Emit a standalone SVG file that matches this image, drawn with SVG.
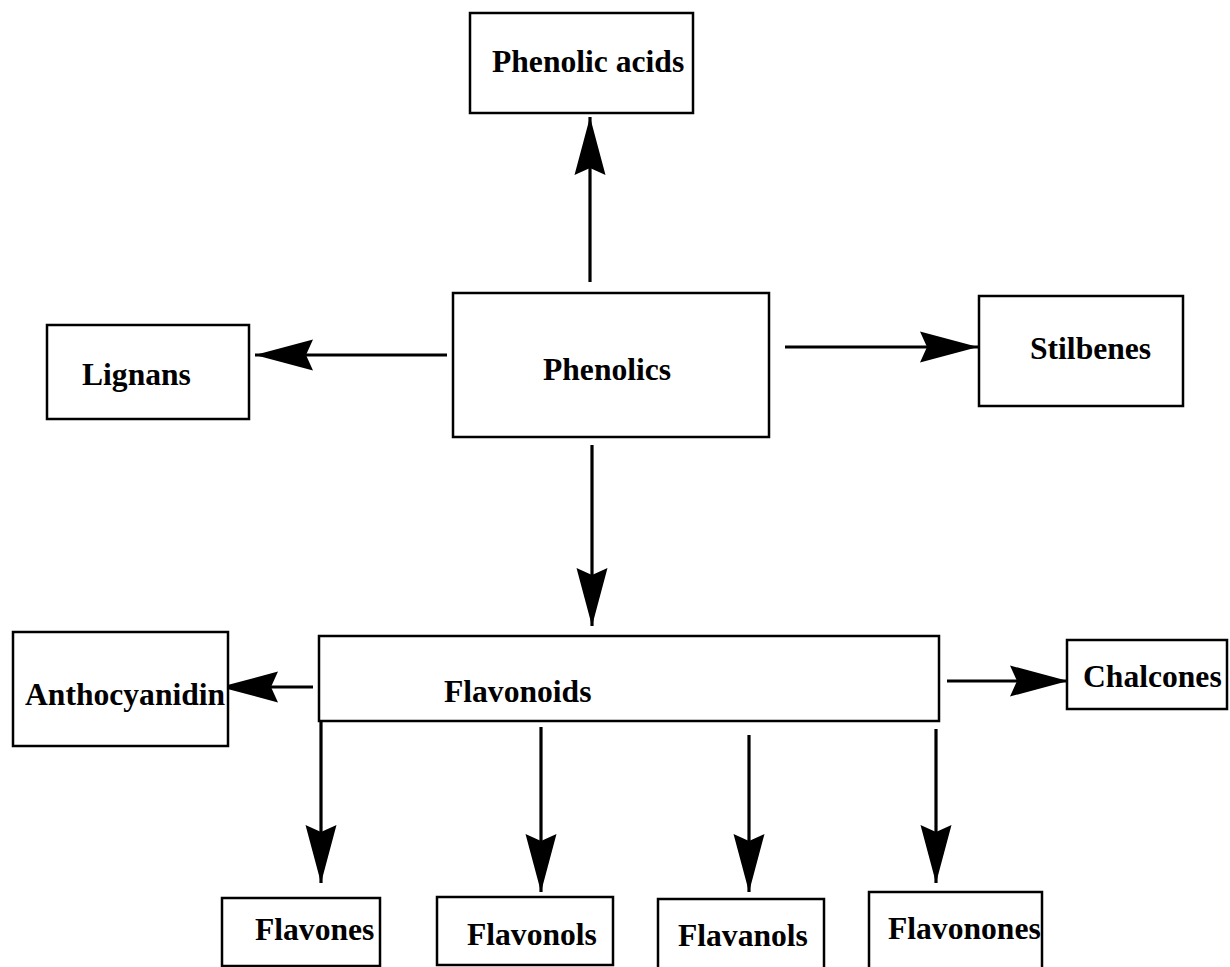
<svg xmlns="http://www.w3.org/2000/svg" width="1230" height="967" viewBox="0 0 1230 967">
<style>
  .box { fill: #fff; stroke: #000; stroke-width: 2.5; }
  .lbl { font-family: "Liberation Serif", "Times New Roman", serif; font-weight: bold; font-size: 31.6px; fill: #000; }
  .con { stroke: #000; stroke-width: 3.2; fill: none; marker-end: url(#arrow); }
</style>
<defs>
  <marker id="arrow" markerUnits="userSpaceOnUse" markerWidth="70" markerHeight="40" viewBox="-60 -20 70 40" refX="0" refY="0" orient="auto">
    <path d="M0,0 L-58,-15.5 L-51,0 L-58,15.5 Z" fill="#000"/>
  </marker>
</defs>
<rect width="1230" height="967" fill="#fff"/>
<g id="connectors">
  <line class="con" x1="590" y1="282" x2="590" y2="117"/>
  <line class="con" x1="447" y1="355" x2="255" y2="355"/>
  <line class="con" x1="785" y1="347" x2="978" y2="347"/>
  <line class="con" x1="592" y1="445" x2="592" y2="626"/>
  <line class="con" x1="313" y1="687" x2="220" y2="687"/>
  <line class="con" x1="947" y1="681" x2="1068" y2="681"/>
  <line class="con" x1="321" y1="721" x2="321" y2="883"/>
  <line class="con" x1="541" y1="727" x2="541" y2="892"/>
  <line class="con" x1="749" y1="735" x2="749" y2="892"/>
  <line class="con" x1="936" y1="729" x2="936" y2="883"/>
</g>
<g id="phenolic-acids">
  <rect class="box" x="470" y="13" width="223" height="100"/>
  <text class="lbl" x="492" y="72">Phenolic acids</text>
</g>
<g id="phenolics">
  <rect class="box" x="453" y="293" width="316" height="144"/>
  <text class="lbl" x="543" y="380">Phenolics</text>
</g>
<g id="lignans">
  <rect class="box" x="47" y="325" width="202" height="94"/>
  <text class="lbl" x="82" y="385">Lignans</text>
</g>
<g id="stilbenes">
  <rect class="box" x="979" y="296" width="204" height="110"/>
  <text class="lbl" x="1030" y="359">Stilbenes</text>
</g>
<g id="flavonoids">
  <rect class="box" x="319" y="636" width="620" height="85"/>
  <text class="lbl" x="444" y="702">Flavonoids</text>
</g>
<g id="anthocyanidin">
  <rect class="box" x="13" y="632" width="215" height="114"/>
  <text class="lbl" x="25" y="705">Anthocyanidin</text>
</g>
<g id="chalcones">
  <rect class="box" x="1067" y="640" width="160" height="69"/>
  <text class="lbl" x="1083" y="687">Chalcones</text>
</g>
<g id="flavones">
  <rect class="box" x="222" y="898" width="158" height="68"/>
  <text class="lbl" x="255" y="940">Flavones</text>
</g>
<g id="flavonols">
  <rect class="box" x="437" y="897" width="176" height="68"/>
  <text class="lbl" x="467" y="945">Flavonols</text>
</g>
<g id="flavanols">
  <rect class="box" x="658" y="899" width="166" height="80"/>
  <text class="lbl" x="678" y="946">Flavanols</text>
</g>
<g id="flavonones">
  <rect class="box" x="869" y="892" width="173" height="90"/>
  <text class="lbl" x="888" y="939">Flavonones</text>
</g>
</svg>
